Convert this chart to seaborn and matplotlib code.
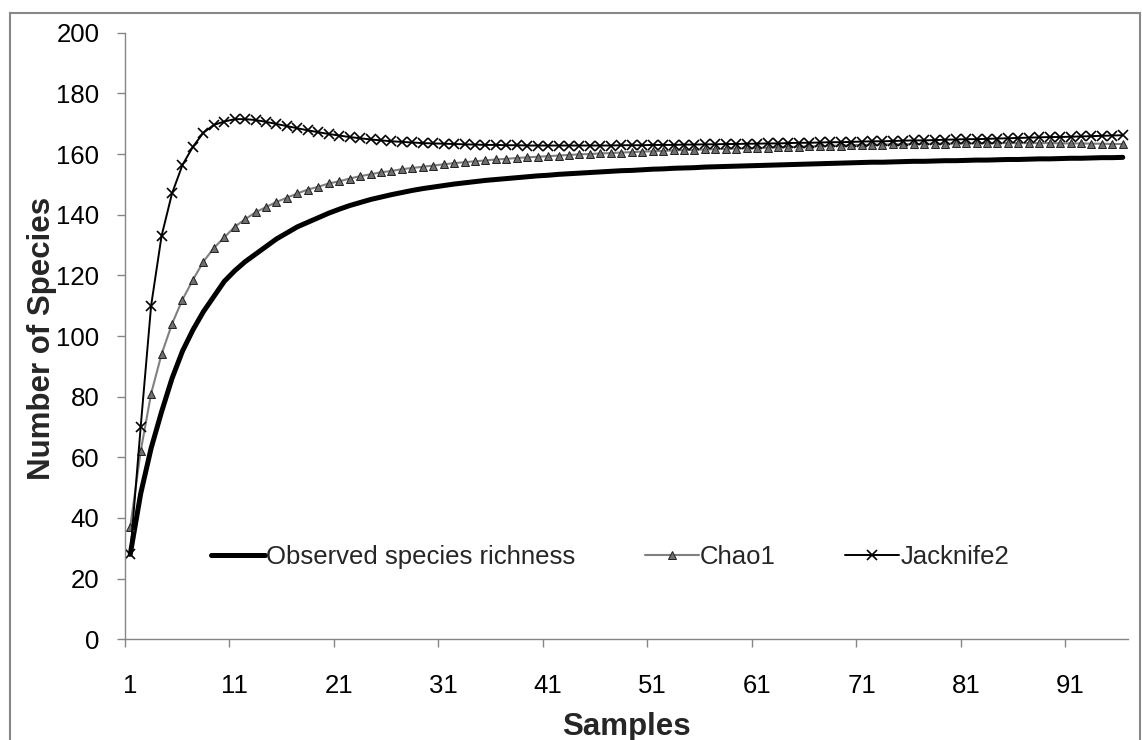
import matplotlib
matplotlib.use("Agg")
import matplotlib.pyplot as plt
from matplotlib.patches import Rectangle
import seaborn as sns
import numpy as np
import pandas as pd

samples = list(range(1, 97))

observed = [28, 48, 63, 75, 86, 95, 102, 108, 113, 118,
            121.5, 124.5, 127, 129.5, 132, 134, 136, 137.5, 139, 140.5,
            141.8, 143, 144, 145, 145.8, 146.6, 147.3, 148, 148.6, 149.1,
            149.6, 150.1, 150.5, 150.9, 151.3, 151.6, 151.9, 152.2, 152.5, 152.8,
            153.0, 153.3, 153.5, 153.7, 153.9, 154.1, 154.3, 154.5, 154.6, 154.8,
            155.0, 155.1, 155.3, 155.4, 155.5, 155.7, 155.8, 155.9, 156.0, 156.1,
            156.2, 156.3, 156.4, 156.5, 156.6, 156.7, 156.8, 156.9, 157.0, 157.1,
            157.2, 157.3, 157.3, 157.4, 157.5, 157.6, 157.6, 157.7, 157.8, 157.8,
            157.9, 158.0, 158.0, 158.1, 158.2, 158.2, 158.3, 158.4, 158.4, 158.5,
            158.6, 158.6, 158.7, 158.8, 158.8, 158.9]

chao1 = [37, 62, 81, 94, 104, 112, 118.5, 124.5, 129, 132.5,
         136, 138.5, 140.8, 142.5, 144.2, 145.6, 147, 148.3, 149.2, 150.3,
         151, 151.9, 152.7, 153.3, 154, 154.4, 155, 155.4, 155.8, 156.2,
         156.6, 157, 157.3, 157.6, 157.9, 158.2, 158.4, 158.7, 158.9, 159.1,
         159.3, 159.5, 159.7, 159.9, 160.0, 160.2, 160.3, 160.5, 160.6, 160.8,
         160.9, 161.0, 161.2, 161.3, 161.4, 161.5, 161.6, 161.7, 161.8, 161.9,
         162.0, 162.1, 162.2, 162.3, 162.4, 162.5, 162.6, 162.7, 162.8, 162.9,
         163.0, 163.0, 163.1, 163.2, 163.2, 163.3, 163.3, 163.4, 163.4, 163.5,
         163.5, 163.5, 163.6, 163.6, 163.6, 163.6, 163.6, 163.6, 163.6, 163.5,
         163.5, 163.5, 163.4, 163.4, 163.3, 163.3]

jacknife2 = [28, 70, 110, 133, 147, 156.4, 162.4, 167, 169.6, 170.7,
             171.5, 171.5, 171.2, 170.6, 169.9, 169.2, 168.5, 167.8, 167.2, 166.6,
             166.1, 165.6, 165.2, 164.8, 164.5, 164.2, 164.0, 163.8, 163.6, 163.5,
             163.4, 163.3, 163.2, 163.1, 163.0, 163.0, 162.9, 162.9, 162.8, 162.8,
             162.8, 162.8, 162.8, 162.8, 162.8, 162.8, 162.8, 162.9, 162.9, 162.9,
             163.0, 163.0, 163.0, 163.1, 163.1, 163.2, 163.2, 163.3, 163.3, 163.4,
             163.4, 163.5, 163.5, 163.6, 163.7, 163.7, 163.8, 163.9, 163.9, 164.0,
             164.1, 164.2, 164.2, 164.3, 164.4, 164.5, 164.5, 164.6, 164.7, 164.8,
             164.9, 164.9, 165.0, 165.1, 165.2, 165.3, 165.4, 165.5, 165.6, 165.6,
             165.7, 165.8, 165.9, 166.0, 166.1, 166.2]

series_names = ["Observed species richness", "Chao1", "Jacknife2"]
x_tick_labels = [1, 11, 21, 31, 41, 51, 61, 71, 81, 91]
y_ticks = [0, 20, 40, 60, 80, 100, 120, 140, 160, 180, 200]

sns.set_style("white")
plt.rcParams['font.family'] = ['Liberation Sans', 'DejaVu Sans']

W, H = 1142, 740
fig = plt.figure(figsize=(W / 100, H / 100), dpi=100)
L, R, T, B = 125, 1128, 32.7, 639.3
ax = fig.add_axes([L / W, 1 - B / H, (R - L) / W, (B - T) / H])

df = pd.DataFrame({"Samples": samples, series_names[0]: observed,
                   series_names[1]: chao1, series_names[2]: jacknife2})

sns.lineplot(data=df, x="Samples", y=series_names[0], ax=ax, color="black",
             linewidth=3.6, solid_capstyle="round", label=series_names[0])
sns.lineplot(data=df, x="Samples", y=series_names[1], ax=ax, color="#808080",
             linewidth=1.5, marker="^", markersize=5.5, markerfacecolor="#6f6f6f",
             markeredgecolor="#202020", markeredgewidth=0.7, label=series_names[1])
sns.lineplot(data=df, x="Samples", y=series_names[2], ax=ax, color="black",
             linewidth=1.4, marker="x", markersize=6.5, markeredgewidth=1.2,
             markeredgecolor="black", label=series_names[2])

ax.set_xlim(0.5, 96.5)
ax.set_ylim(0, 200)
gray = "#868686"
for s in ["top", "right"]:
    ax.spines[s].set_visible(False)
for s in ["left", "bottom"]:
    ax.spines[s].set_color(gray)
    ax.spines[s].set_linewidth(1.0)

ax.set_yticks(y_ticks)
ax.set_yticklabels([str(v) for v in y_ticks])
ax.tick_params(axis="y", direction="out", length=5.5, width=1.0, color=gray,
               pad=13, labelsize=18.5, labelcolor="black", left=True)

ax.set_xticks(x_tick_labels)
ax.set_xticklabels([str(v) for v in x_tick_labels])
ax.set_xticks([v - 0.5 for v in x_tick_labels], minor=True)
ax.tick_params(axis="x", which="major", length=0, pad=25, labelsize=18.5,
               labelcolor="black")
ax.tick_params(axis="x", which="minor", direction="out", length=5.5, width=1.0,
               color=gray, bottom=True)

ax.set_xlabel("Samples", fontsize=22.5, fontweight="bold", va="center")
ax.xaxis.set_label_coords(0.5, (B - 726.7) / (B - T) )
ax.set_ylabel("Number of Species", fontsize=22.5, fontweight="bold", va="center")
ax.yaxis.set_label_coords((41.7 - L) / (R - L), (B - 338) / (B - T))

leg = ax.legend(loc="center", bbox_to_anchor=(610 / W, 1 - 557 / H),
                bbox_transform=fig.transFigure, ncol=3, frameon=False,
                fontsize=18.5, handlelength=2.1, handletextpad=0.05,
                columnspacing=2.7)

fig.patches.append(Rectangle((10 / W, -0.01), (1140 - 10) / W, 1.01 - 13 / H,
                             transform=fig.transFigure, fill=False,
                             edgecolor="#888888", linewidth=1.5))

fig.savefig("out.png", dpi=100)
